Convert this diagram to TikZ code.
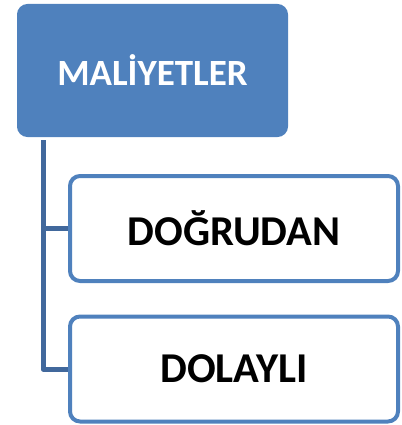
\documentclass[tikz,border=0pt]{standalone}
\usepackage{fontspec}
\setmainfont{Carlito}
\usepackage{tikz}
\definecolor{boxblue}{HTML}{4F81BD}
\definecolor{lineblue}{HTML}{41689C}

\begin{document}
\begin{tikzpicture}[x=1pt, y=-1pt,
	topbox/.style={rectangle, rounded corners=10pt, fill=boxblue, draw=boxblue, line width=1pt,
		minimum width=270pt, minimum height=132pt, text=white, font=\bfseries\fontsize{37}{44}\selectfont},
	subbox/.style={rectangle, rounded corners=10pt, fill=white, draw=boxblue, line width=4pt,
		minimum width=328pt, minimum height=105pt, font=\bfseries\fontsize{42.5}{50}\selectfont},
	conn/.style={draw=lineblue, line width=5pt, line join=round}]
	\useasboundingbox (0,0) rectangle (401,425);
	\node[topbox] (cost) at (152.5,70.5) {MALİYETLER};
	\node[subbox] (direct) at (234,228.5) {DOĞRUDAN};
	\node[subbox] (indirect) at (234,369) {DOLAYLI};
	\coordinate (trunk) at (43,140);
	\draw[conn] (trunk) |- (direct.west);
	\draw[conn] (trunk) |- (indirect.west);
\end{tikzpicture}
\end{document}
